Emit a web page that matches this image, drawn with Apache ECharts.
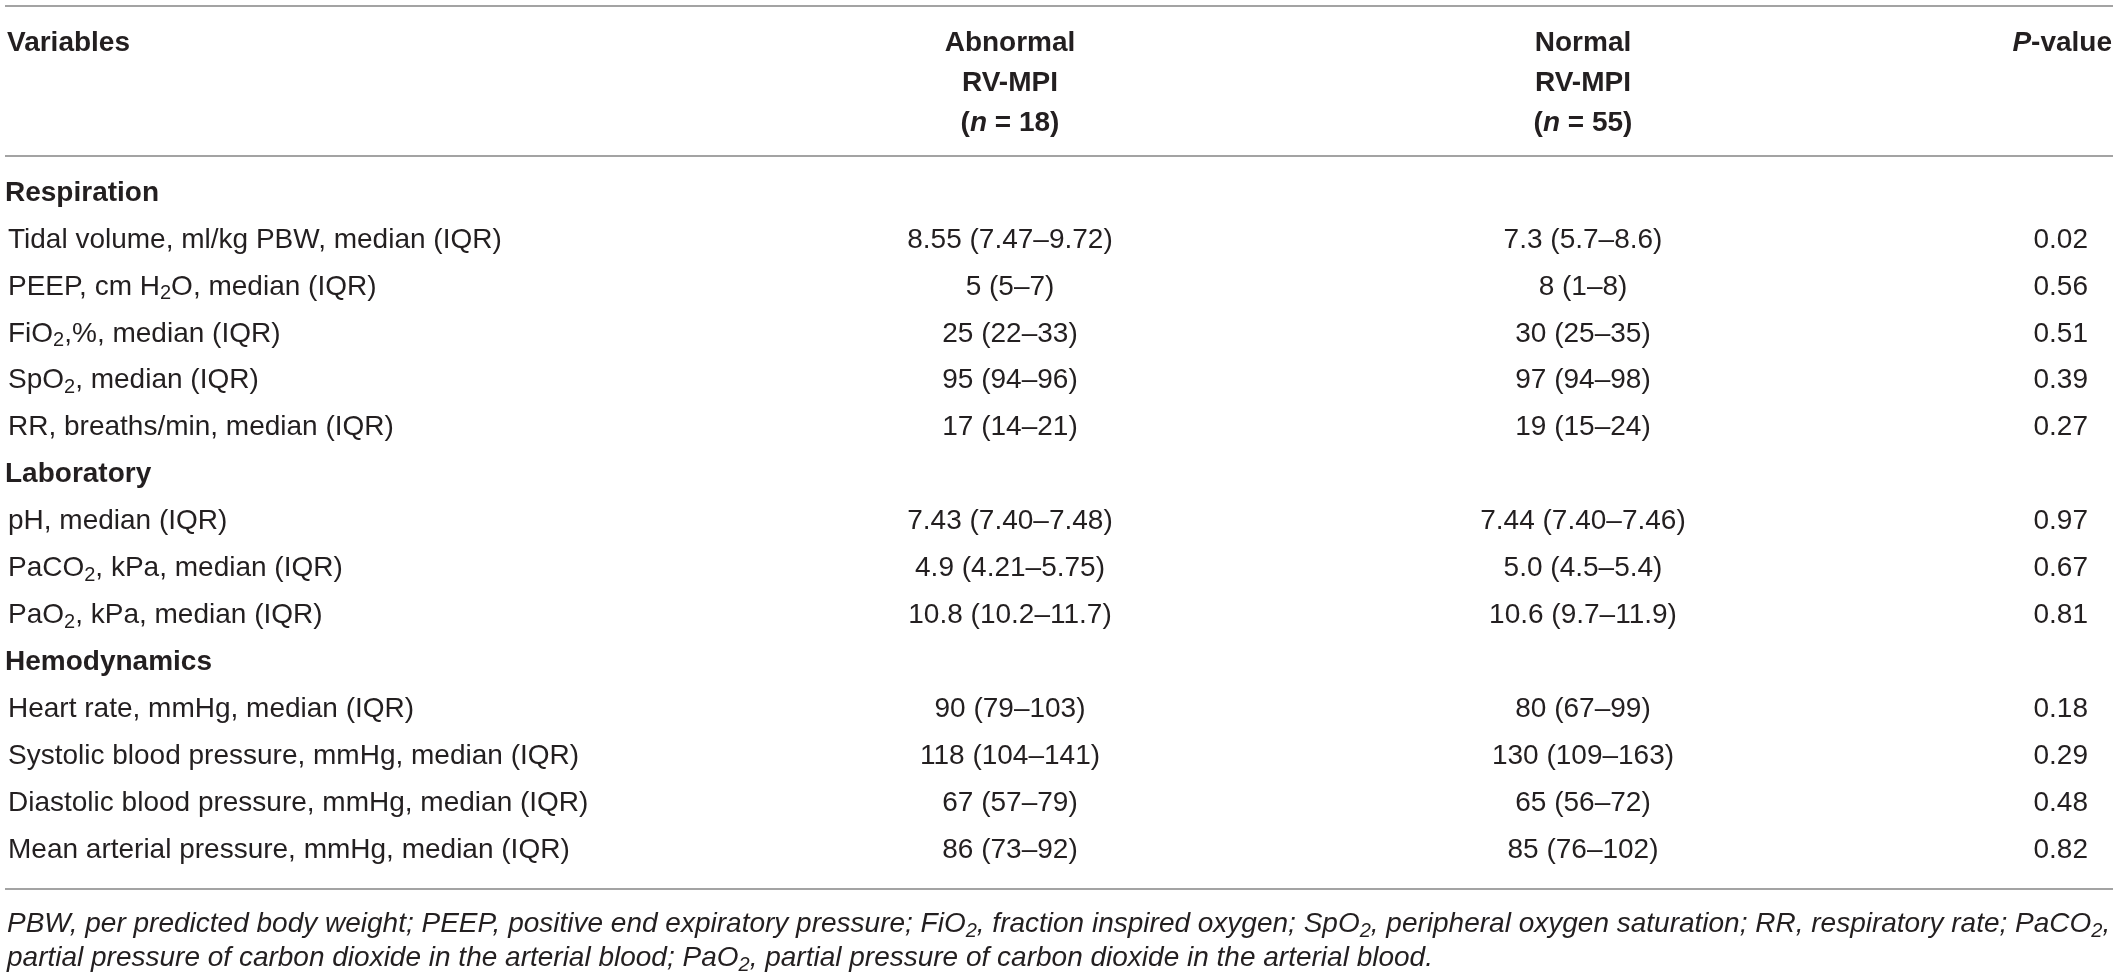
<!DOCTYPE html>
<html>
<head>
<meta charset="utf-8">
<title>RV-MPI table</title>
<script src="https://cdn.jsdelivr.net/npm/echarts@6/dist/echarts.min.js"></script>
<style>
    html, body { margin: 0; padding: 0; background: #ffffff; }
    #main { width: 2119px; height: 976px; }
</style>
</head>
<body>
<div id="main"></div>
<script>
// 表格数据 ({s|..} = 下标, {i|..} = 斜体)
var variables = [
    'Respiration',
    'Tidal volume, ml/kg PBW, median (IQR)',
    'PEEP, cm H{s|2}O, median (IQR)',
    'FiO{s|2},%, median (IQR)',
    'SpO{s|2}, median (IQR)',
    'RR, breaths/min, median (IQR)',
    'Laboratory',
    'pH, median (IQR)',
    'PaCO{s|2}, kPa, median (IQR)',
    'PaO{s|2}, kPa, median (IQR)',
    'Hemodynamics',
    'Heart rate, mmHg, median (IQR)',
    'Systolic blood pressure, mmHg, median (IQR)',
    'Diastolic blood pressure, mmHg, median (IQR)',
    'Mean arterial pressure, mmHg, median (IQR)'
];
var sectionRows = [0, 6, 10];
var abnormal = [
    '', '8.55 (7.47–9.72)', '5 (5–7)', '25 (22–33)', '95 (94–96)', '17 (14–21)',
    '', '7.43 (7.40–7.48)', '4.9 (4.21–5.75)', '10.8 (10.2–11.7)',
    '', '90 (79–103)', '118 (104–141)', '67 (57–79)', '86 (73–92)'
];
var normal = [
    '', '7.3 (5.7–8.6)', '8 (1–8)', '30 (25–35)', '97 (94–98)', '19 (15–24)',
    '', '7.44 (7.40–7.46)', '5.0 (4.5–5.4)', '10.6 (9.7–11.9)',
    '', '80 (67–99)', '130 (109–163)', '65 (56–72)', '85 (76–102)'
];
var pValues = [
    '', '0.02', '0.56', '0.51', '0.39', '0.27',
    '', '0.97', '0.67', '0.81',
    '', '0.18', '0.29', '0.48', '0.82'
];
var headVariables = 'Variables';
var headAbnormal = ['Abnormal', 'RV-MPI', '({i|n} = 18)'];
var headNormal = ['Normal', 'RV-MPI', '({i|n} = 55)'];
var headP = '{i|P}-value';
var footnotes = [
    'PBW, per predicted body weight; PEEP, positive end expiratory pressure; FiO{s|2}, fraction inspired oxygen; SpO{s|2}, peripheral oxygen saturation; RR, respiratory rate; PaCO{s|2},',
    'partial pressure of carbon dioxide in the arterial blood; PaO{s|2}, partial pressure of carbon dioxide in the arterial blood.'
];

// 版式
var FONT = "'Liberation Sans', Arial, Helvetica, sans-serif";
var TEXT_COLOR = '#231f20';
var RULE_COLOR = '#a3a3a3';
var FONT_SIZE = 28;
var colAnchor = [8, 1010, 1583, 2088];
var colAlign = ['left', 'center', 'center', 'right'];
var columns = [variables, abnormal, normal, pValues];

function richFor(weight, style) {
    return {
        s: {
            fontFamily: FONT, fontSize: 20, fontWeight: weight, fontStyle: style,
            fill: TEXT_COLOR, lineHeight: 18, verticalAlign: 'bottom'
        },
        i: {
            fontFamily: FONT, fontSize: FONT_SIZE, fontWeight: weight, fontStyle: 'italic',
            fill: TEXT_COLOR, lineHeight: 34
        }
    };
}

function textStyle(text, align, weight, style) {
    return {
        text: text,
        fill: TEXT_COLOR,
        fontFamily: FONT,
        fontSize: FONT_SIZE,
        fontWeight: weight || 'normal',
        fontStyle: style || 'normal',
        lineHeight: 34,
        align: align,
        verticalAlign: 'middle',
        rich: richFor(weight || 'normal', style || 'normal')
    };
}

function rule(y) {
    return {
        type: 'line',
        shape: { x1: 5, y1: y, x2: 2113, y2: y },
        style: { stroke: RULE_COLOR, lineWidth: 2 }
    };
}

var cells = [];
for (var r = 0; r < variables.length; r++) {
    for (var c = 0; c < columns.length; c++) {
        cells.push([c, r]);
    }
}

var headerElements = [
    rule(6), rule(156), rule(889),
    { type: 'text', x: 7, y: 43, style: textStyle(headVariables, 'left', 'bold') },
    { type: 'text', x: 2112, y: 43, style: textStyle(headP, 'right', 'bold') }
];
[43, 83, 123].forEach(function (y, k) {
    headerElements.push({ type: 'text', x: colAnchor[1], y: y, style: textStyle(headAbnormal[k], 'center', 'bold') });
    headerElements.push({ type: 'text', x: colAnchor[2], y: y, style: textStyle(headNormal[k], 'center', 'bold') });
});
[924, 958].forEach(function (y, k) {
    headerElements.push({ type: 'text', x: 7, y: y, style: textStyle(footnotes[k], 'left', 'normal', 'italic') });
});

var chart = echarts.init(document.getElementById('main'));

var option = {
    animation: false,
    grid: { left: 0, right: 0, top: 169.5, height: 704.25 },
    xAxis: { type: 'value', min: 0, max: 2119, show: false },
    yAxis: {
        type: 'category',
        data: variables.map(function (v, i) { return i; }),
        inverse: true,
        show: false
    },
    graphic: { elements: headerElements },
    series: [{
        type: 'custom',
        coordinateSystem: 'cartesian2d',
        data: cells,
        encode: { x: 0, y: 1 },
        renderItem: function (params, api) {
            var c = api.value(0);
            var r = api.value(1);
            var text = columns[c][r];
            if (!text) {
                return null;
            }
            var isSection = sectionRows.indexOf(r) >= 0;
            var x = colAnchor[c] - (c === 0 && isSection ? 3 : 0);
            var pt = api.coord([x, r]);
            return {
                type: 'text',
                x: pt[0],
                y: pt[1],
                style: textStyle(text, colAlign[c], isSection ? 'bold' : 'normal')
            };
        }
    }]
};

chart.setOption(option);
</script>
</body>
</html>
